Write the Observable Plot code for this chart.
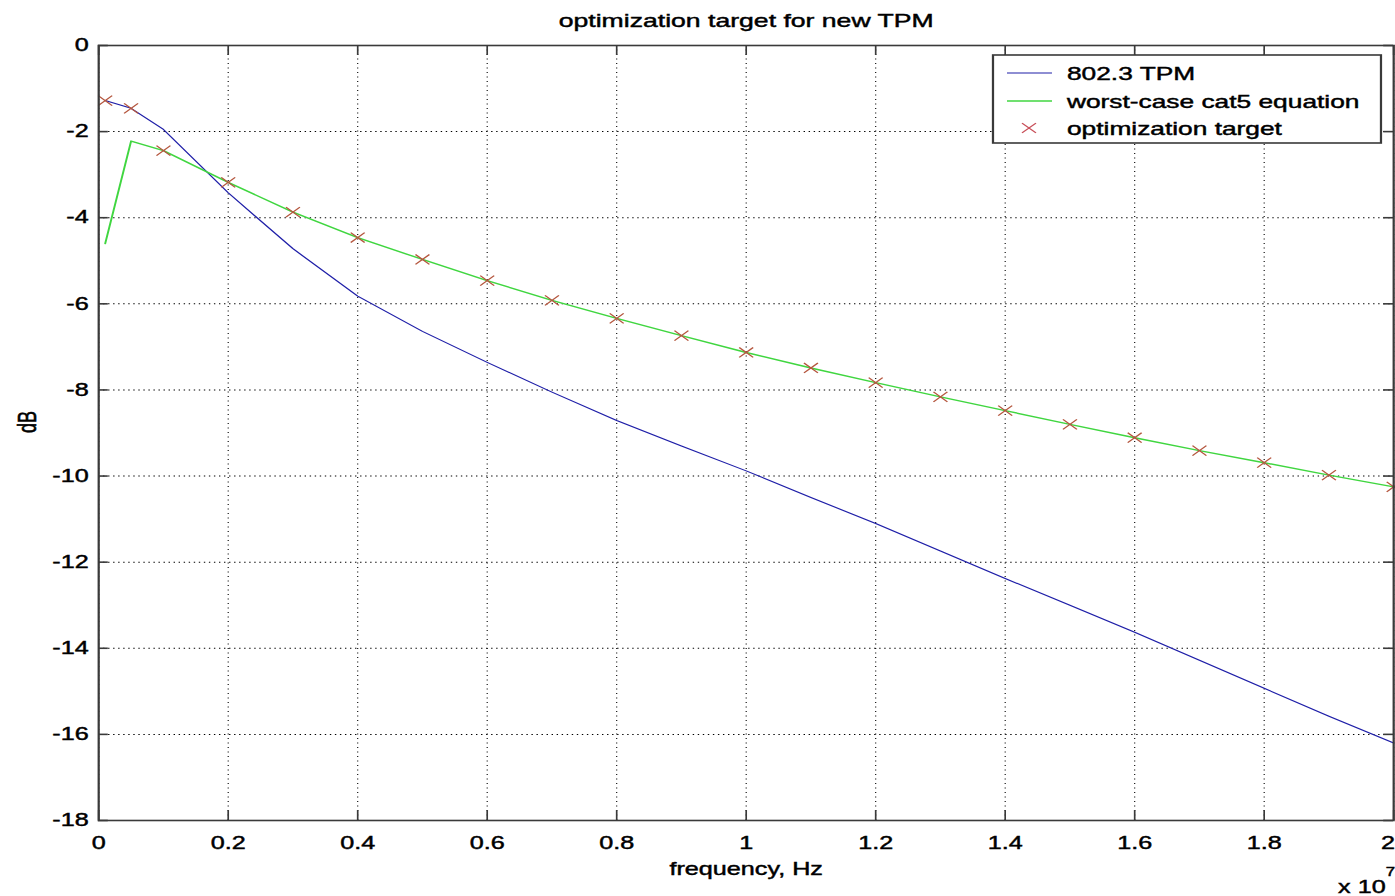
<!DOCTYPE html>
<html><head><meta charset="utf-8">
<script src="https://cdn.jsdelivr.net/npm/d3@7"></script>
<script src="https://cdn.jsdelivr.net/npm/@observablehq/plot@0.6"></script>
<style>
html,body{margin:0;padding:0;background:#fff;overflow:hidden;}
#wrap{width:1395px;height:896px;position:relative;overflow:hidden;background:#fff;}
#chart svg{transform:scaleX(1.4);transform-origin:0 0;display:block;}
#chart svg text{stroke:#000;stroke-width:0.45px;}
</style></head><body><div id="wrap"><div id="chart"></div></div>
<script>
// ---- data (frequency in units of 1e7 Hz, level in dB) ----
const tpmFreq = [0.01, 0.05, 0.1, 0.2, 0.3, 0.4, 0.5, 0.6, 0.7, 0.8, 0.9, 1.0, 1.1, 1.2, 1.3, 1.4, 1.5, 1.6, 1.7, 1.8, 1.9, 2.0];
const tpmDb   = [-1.28, -1.46, -1.95, -3.42, -4.72, -5.82, -6.64, -7.36, -8.05, -8.71, -9.30, -9.88, -10.50, -11.10, -11.74, -12.38, -13.00, -13.63, -14.28, -14.93, -15.58, -16.20];

const cat5Freq = [0.01, 0.05, 0.1, 0.2, 0.3, 0.4, 0.5, 0.6, 0.7, 0.8, 0.9, 1.0, 1.1, 1.2, 1.3, 1.4, 1.5, 1.6, 1.7, 1.8, 1.9, 2.0];
const cat5Db   = [-4.60, -2.22, -2.44, -3.18, -3.87, -4.46, -4.97, -5.46, -5.92, -6.34, -6.74, -7.13, -7.49, -7.83, -8.16, -8.48, -8.80, -9.11, -9.41, -9.69, -9.98, -10.25];

const targetFreq = [0.01, 0.05, 0.1, 0.2, 0.3, 0.4, 0.5, 0.6, 0.7, 0.8, 0.9, 1.0, 1.1, 1.2, 1.3, 1.4, 1.5, 1.6, 1.7, 1.8, 1.9, 2.0];
const targetDb   = [-1.28, -1.46, -2.44, -3.18, -3.87, -4.46, -4.97, -5.46, -5.92, -6.34, -6.74, -7.13, -7.49, -7.83, -8.16, -8.48, -8.80, -9.11, -9.41, -9.69, -9.98, -10.25];

const xTicks = [0, 0.2, 0.4, 0.6, 0.8, 1, 1.2, 1.4, 1.6, 1.8, 2];
const xTickLabels = ["0", "0.2", "0.4", "0.6", "0.8", "1", "1.2", "1.4", "1.6", "1.8", "2"];
const yTicks = [0, -2, -4, -6, -8, -10, -12, -14, -16, -18];
const yTickLabels = ["0", "-2", "-4", "-6", "-8", "-10", "-12", "-14", "-16", "-18"];

const seriesNames = ["802.3 TPM", "worst-case cat5 equation", "optimization target"];
const seriesColors = ["#1f1fa8", "#40d640", "#b5573f"];
const titleText = "optimization target for new TPM";
const xLabel = "frequency, Hz";
const yLabel = "dB";
const xExponent = ["x 10", "7"];

// ---- build ----
const E = 1e7;
const tpm = tpmFreq.map((f, i) => ({f: f * E, v: tpmDb[i]}));
const cat5 = cat5Freq.map((f, i) => ({f: f * E, v: cat5Db[i]}));
const target = targetFreq.map((f, i) => ({f: f * E, v: targetDb[i]}));
const xt = xTicks.map((t, i) => ({t: t * E, label: xTickLabels[i]}));
const yt = yTicks.map((t, i) => ({t, label: yTickLabels[i]}));
const xtInner = xt.slice(0, -1), xtLast = xt.slice(-1);

const S = 1.4;                 // horizontal stretch of the original picture
const W = 1395 / S, H = 896;
const mL = 98 / S, mR = 2 / S, mT = 45, mB = 76;
const fw = W - mL - mR, fh = H - mT - mB;
const font = "'Liberation Sans', Arial, Helvetica, sans-serif";
const frameStroke = "#3a3a3a";

const chart = Plot.plot({
  width: W, height: H,
  marginLeft: mL, marginRight: mR, marginTop: mT, marginBottom: mB,
  style: {fontFamily: font, fontSize: "18px", color: "#000", background: "#fff", overflow: "visible"},
  x: {domain: [0, 2 * E], axis: null},
  y: {domain: [-18, 0], axis: null},
  marks: [
    Plot.ruleX(xt, {x: "t", stroke: "#000", strokeWidth: 0.8, strokeDasharray: "1,3.5"}),
    Plot.ruleY(yt, {y: "t", stroke: "#000", strokeWidth: 1, strokeDasharray: "1,2.6"}),
    Plot.tickX(xt, {x: "t", stroke: frameStroke, strokeWidth: 1.2, insetTop: fh - 10}),
    Plot.tickX(xt, {x: "t", stroke: frameStroke, strokeWidth: 1.2, insetBottom: fh - 10}),
    Plot.tickY(yt, {y: "t", stroke: frameStroke, strokeWidth: 1.6, insetRight: fw - 7}),
    Plot.tickY(yt, {y: "t", stroke: frameStroke, strokeWidth: 1.6, insetLeft: fw - 7}),
    Plot.line(tpm, {x: "f", y: "v", stroke: seriesColors[0], strokeWidth: 1.1}),
    Plot.line(cat5, {x: "f", y: "v", stroke: seriesColors[1], strokeWidth: 1.4}),
    Plot.dot(target, {x: "f", y: "v", symbol: "times", r: 4.6, stroke: seriesColors[2], strokeWidth: 1.1}),
    Plot.frame({stroke: frameStroke, strokeWidth: 1.6}),
    Plot.text(xtInner, {x: "t", text: "label", frameAnchor: "bottom", lineAnchor: "middle", dy: 23, fontSize: 18, fill: "#000"}),
    Plot.text(xtLast, {x: "t", text: "label", frameAnchor: "bottom", lineAnchor: "middle", textAnchor: "end", dx: 1, dy: 23, fontSize: 18, fill: "#000"}),
    Plot.text(yt, {y: "t", text: "label", frameAnchor: "left", lineAnchor: "middle", textAnchor: "end", dx: -10 / S, fontSize: 18, fill: "#000"}),
    Plot.text([xLabel], {frameAnchor: "bottom", lineAnchor: "middle", dy: 49, fontSize: 18, fill: "#000"}),
    Plot.text([yLabel], {frameAnchor: "left", lineAnchor: "middle", rotate: -90, dx: -71 / S, fontSize: 18, fill: "#000"}),
    Plot.text([titleText], {frameAnchor: "top", lineAnchor: "middle", dy: -25, fontSize: 19, fill: "#000"}),
    Plot.text([xExponent[0]], {frameAnchor: "bottom-right", lineAnchor: "middle", textAnchor: "end", dx: -8 / S, dy: 67, fontSize: 18, fill: "#000"}),
    Plot.text([xExponent[1]], {frameAnchor: "bottom-right", lineAnchor: "middle", textAnchor: "start", dx: -8 / S, dy: 52, fontSize: 12, fill: "#000"})
  ]
});
document.getElementById("chart").appendChild(chart);

// ---- legend (inside the axes, top right) ----
const svg = d3.select(chart);
const lg = svg.append("g").attr("font-family", font).attr("font-size", 18.8).attr("text-anchor", "start");
const bx0 = 993 / S, bx1 = 1381 / S, by0 = 55, by1 = 143;
lg.append("rect").attr("x", bx0).attr("y", by0).attr("width", bx1 - bx0).attr("height", by1 - by0)
  .attr("fill", "#fff").attr("stroke", frameStroke).attr("stroke-width", 1.6);
const rows = [73, 101, 128];
const sx1 = 1007 / S, sx2 = 1052 / S, tx = 1067 / S, mx = 1029 / S;
seriesNames.forEach((name, i) => {
  const y = rows[i];
  if (i < 2) {
    lg.append("line").attr("x1", sx1).attr("x2", sx2).attr("y1", y).attr("y2", y)
      .attr("stroke", seriesColors[i]).attr("stroke-width", i === 0 ? 1.1 : 1.4);
  } else {
    lg.append("path").attr("transform", `translate(${mx},${y})`)
      .attr("d", d3.symbol(d3.symbolTimes, Math.PI * 4.6 * 4.6)())
      .attr("fill", "none").attr("stroke", "#c8505a").attr("stroke-width", 1.1);
  }
  lg.append("text").attr("x", tx).attr("y", y).attr("dy", "0.35em").attr("text-anchor", "start")
    .attr("fill", "#000").text(name);
});
</script></body></html>
